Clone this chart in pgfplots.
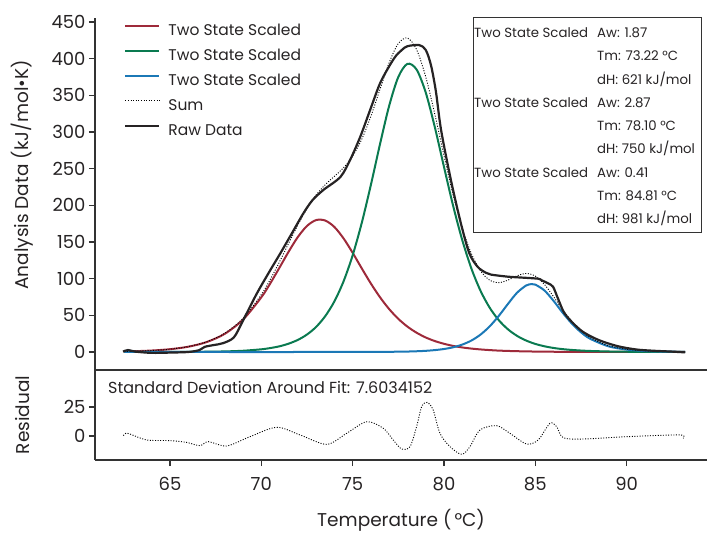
\documentclass[border=0pt]{standalone}
\usepackage{fontspec}
\setmainfont{Poppins}
\usepackage{pgfplots}
\pgfplotsset{compat=1.18}

\definecolor{fitred}{HTML}{9E2A3A}
\definecolor{fitgreen}{HTML}{0A7A50}
\definecolor{fitblue}{HTML}{1B78B6}
\definecolor{axgray}{HTML}{333333}
\definecolor{txt}{HTML}{262324}

\pgfplotsset{
  dsc/.style={
    scale only axis, width=612bp,
    xmin=60.895, xmax=94.40,
    axis y line*=left, axis x line*=bottom,
    axis line style={-, axgray, line width=1.8bp},
    tick align=outside, major tick length=6bp,
    every tick/.style={axgray, line width=1.6bp},
    tick label style={text=txt, font=\fontsize{18bp}{20bp}\selectfont},
    /pgf/number format/assume math mode=true,
    label style={text=txt, font=\fontsize{18.5bp}{21bp}\selectfont},
    clip=false,
  },
}

\begin{document}
\begin{tikzpicture}
\path[use as bounding box] (0,0) rectangle (707bp,533bp);

% main panel: the three fitted peaks, their sum and the raw curve
\begin{axis}[dsc,
  at={(95bp,163bp)}, anchor=south west, height=352bp,
  ymin=-24.55, ymax=455.5,
  axis x line=none,
  ytick={0,50,...,450},
  ylabel={Analysis Data (kJ/mol•K)},
  ylabel style={at={(axis description cs:-0.119,0.554)}, anchor=center},
  legend cell align=left,
  legend style={draw=none, fill=none, inner sep=0pt,
    at={(axis description cs:0.0474,0.9844)}, anchor=north west,
    font=\fontsize{15.5bp}{18bp}\selectfont, text=txt,
    row sep=10bp, column sep=8bp,
    nodes={inner sep=0pt, text height=11.5bp, text depth=3.5bp}},
  legend image code/.code={\draw[#1] (0bp,5.5bp) -- (34bp,5.5bp);},
]
\addplot[fitred, line width=2bp, smooth] coordinates {
(62.5,0.74)(63,1.03)(64,1.99)(65,3.80)(66,7.2)(67,13.5)(68,24.8)(69,44.2)
(70,74.6)(70.5,94.0)(71,115.3)(71.5,137.0)(72,156.8)(72.5,171.9)(73,179.9)
(73.5,179.3)(74,170.5)(74.5,155.0)(75,135.3)(75.5,114.0)(76,93.3)(76.5,74.6)
(77,58.5)(77.5,45.2)(78,34.6)(78.5,26.3)(79,19.8)(79.5,14.9)(80,11.2)(80.5,8.3)
(81,6.2)(81.5,4.65)(82,3.5)(82.5,2.6)(83,1.9)(83.5,1.45)(84,1.08)(85,0.6)
(86,0.34)(87,0.19)(88,0.1)(89,0.06)(90,0.03)(91,0.02)(93.2,0.0)
};
\addlegendentry{Two State Scaled}
\addplot[fitgreen, line width=2bp, smooth] coordinates {
(62.5,0.01)(64,0.04)(66,0.17)(67,0.37)(68,0.79)(69,1.7)(70,3.66)(70.5,5.4)
(71,7.8)(71.5,11.4)(72,16.5)(72.5,23.8)(73,34.2)(73.5,48.9)(74,69.0)(74.5,96.2)
(75,131.8)(75.5,176.2)(76,228.1)(76.5,283.7)(77,335.8)(77.5,375.1)(78,393.0)
(78.5,385.2)(79,354.0)(79.5,306.6)(80,252.5)(80.5,199.5)(81,152.7)(81.5,113.9)
(82,83.5)(82.5,60.5)(83,43.4)(83.5,31.0)(84,22.0)(84.5,15.6)(85,11.0)(85.5,7.8)
(86,5.5)(86.5,3.9)(87,2.8)(87.5,2.0)(88,1.4)(89,0.7)(90,0.35)(91,0.17)(92,0.08)
(93.2,0.03)
};
\addlegendentry{Two State Scaled}
\addplot[fitblue, line width=2bp, smooth] coordinates {
(62.5,0)(74,0)(76,0.09)(77,0.25)(78,0.62)(78.5,1.0)(79,1.6)(79.5,2.6)(80,4.07)
(80.5,6.4)(81,10.1)(81.5,15.6)(82,23.7)(82.5,34.9)(83,49.2)(83.5,65.5)(84,80.8)
(84.5,90.7)(84.8,92.6)(85,91.9)(85.5,83.9)(86,69.7)(86.5,53.5)(87,38.8)(87.5,26.9)
(88,18.1)(89,7.8)(90,3.3)(91,1.37)(92,0.56)(93.2,0.2)
};
\addlegendentry{Two State Scaled}
\addplot[black, line width=0.9bp, dash pattern=on 1bp off 1.6bp, smooth] coordinates {
(62.5,0.75)(63,1.05)(64,2.03)(65,3.87)(66,7.37)(67,13.87)(68,25.6)(69,45.9)
(70,78.3)(70.5,99.4)(71,123.1)(71.5,148.4)(72,173.3)(72.5,195.7)(73,214.1)
(73.5,228.2)(74,239.5)(74.5,251.2)(75,267.1)(75.5,290.2)(76,321.5)(76.5,358.4)
(77,394.6)(77.5,420.7)(78,428.2)(78.5,412.5)(79,375.4)(79.5,324.1)(80,267.8)
(80.5,214.2)(81,169.0)(81.5,134.2)(82,110.7)(82.5,98.0)(83,94.5)(83.5,98.0)
(84,103.9)(84.5,107.1)(85,103.5)(85.5,92.2)(86,75.5)(86.5,57.7)(87,41.8)
(87.5,29.0)(88,19.6)(89,8.6)(90,3.7)(91,1.6)(92,0.65)(93.2,0.23)
};
\addlegendentry{Sum}
\addplot[txt, line width=2.2bp, smooth, tension=0.5] coordinates {
(62.43,0.5)(62.7,2.7)(63.1,0.5)(64,-1.2)(65,-0.8)(66,0)(66.6,2.5)(66.9,7)
(67.4,9.5)(67.9,12)(68.5,20)(69,43)(69.76,80)(70.5,112)(71.04,134.5)(71.7,163)
(72.3,189)(72.8,207)(73.4,221)(74.34,239)(74.9,264)(75.44,295)(76,333)
(76.54,368.6)(77.27,400.5)(77.7,412)(78,417)(78.64,418.6)(79,412)(79.29,391)
(79.56,355)(79.84,303)(80.38,234.5)(80.93,175)(81.39,134.5)(81.85,116)
(82.3,108)(82.58,105.5)(83.5,102.7)(84.05,101.8)(85.14,100)(85.33,98)
(85.7,93.6)(85.97,89)(86.24,73)(86.6,52.7)(87.2,36)(87.7,26)(88.5,16)
(89.5,8)(90.5,3.5)(91.4,1.8)(92.5,0.5)(93.2,-0.5)
};
\addlegendentry{Raw Data}
\end{axis}

% residual panel
\begin{axis}[dsc,
  at={(95bp,73bp)}, anchor=south west, height=90bp,
  ymin=-20.7, ymax=56.9,
  ytick={0,25}, xtick={65,70,...,90},
  xticklabel style={yshift=-8bp},
  ylabel={Residual},
  ylabel style={at={(axis description cs:-0.119,0.5)}, anchor=center},
  xlabel={Temperature (\,°C)},
  xlabel style={at={(axis description cs:0.5,-0.667)}, anchor=center},
]
\draw[axgray, line width=1.8bp] (rel axis cs:0,1) -- (rel axis cs:1,1);
\addplot[black, line width=0.9bp, dash pattern=on 1bp off 1.6bp, smooth] coordinates {
(62.45,0.3)(62.68,2.3)(63.72,-3.4)(65,-4)(65.9,-5.5)(66.64,-8.3)(67.1,-4.9)
(68.1,-8.6)(69.38,-0.6)(70.84,7.5)(72.12,0.9)(73.58,-7.2)(74.67,2.3)(75.77,12.3)
(76.68,6.6)(77.22,-3.4)(77.68,-11.2)(78.14,-9.2)(78.5,8.0)(78.78,25.3)(79.08,29)
(79.41,22.4)(79.78,2.3)(80.33,-9.2)(80.97,-15.8)(81.42,-9.2)(81.97,5.2)(82.88,8.9)
(83.61,2.3)(84.52,-6.9)(85.16,-3.4)(85.8,10.9)(86.17,8)(86.53,-1.5)(87.62,-2.6)
(90,-0.6)(92.9,0.9)(93.1,-2)
};
\node[anchor=base west, inner sep=0pt, text=txt, font=\fontsize{16bp}{18bp}\selectfont]
  at (axis description cs:0.0212,0.739) {Standard Deviation Around Fit: 7.6034152};
\end{axis}

% parameter box
\draw[axgray, line width=1bp] (473bp,515bp) rectangle (701bp,300bp);
\begin{scope}[every node/.style={anchor=base west, inner sep=0pt, text=txt,
    font=\fontsize{13.3bp}{15bp}\selectfont}]
\node at (474bp,495.4bp) {Two State Scaled};
\node at (597bp,495.4bp) {Aw: 1.87};
\node at (597bp,472.15bp) {Tm: 73.22 °C};
\node at (597bp,448.9bp) {dH: 621 kJ/mol};
\node at (474bp,425.65bp) {Two State Scaled};
\node at (597bp,425.65bp) {Aw: 2.87};
\node at (597bp,402.4bp) {Tm: 78.10 °C};
\node at (597bp,379.15bp) {dH: 750 kJ/mol};
\node at (474bp,355.9bp) {Two State Scaled};
\node at (597bp,355.9bp) {Aw: 0.41};
\node at (597bp,332.65bp) {Tm: 84.81 °C};
\node at (597bp,309.4bp) {dH: 981 kJ/mol};
\end{scope}
\end{tikzpicture}
\end{document}
